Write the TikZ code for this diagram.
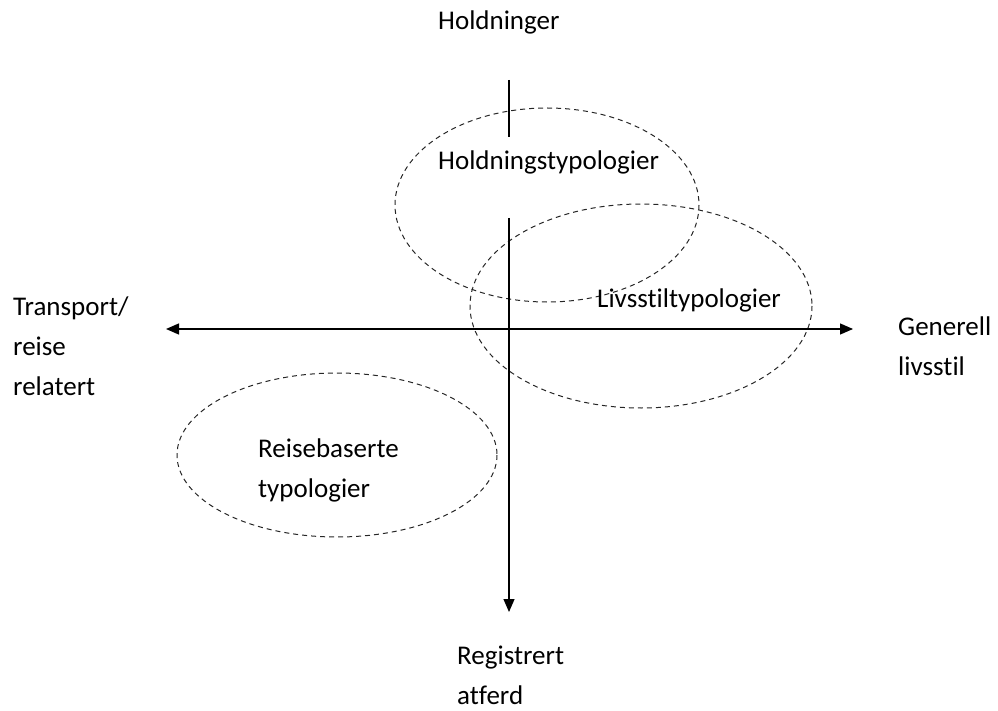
\documentclass[tikz,border=0pt]{standalone}
\usepackage{fontspec}
\setmainfont{Carlito}[Ligatures={NoCommon}]
\usetikzlibrary{arrows.meta}
\begin{document}
\begin{tikzpicture}[x=1pt,y=-1pt,
  axis/.style={line width=1.3pt,black},
  tip/.style={-{Triangle[length=13pt,width=11pt]}},
  group/.style={dashed,line width=1pt,dash pattern=on 5pt off 4pt,black!85},
  lbl/.style={inner sep=0pt,font=\fontsize{27}{40}\selectfont,align=left,anchor=base west}
]
\useasboundingbox (0,0) rectangle (998,711);

% groups of typologies
\draw[group] (547,205) ellipse [x radius=152, y radius=97];
\draw[group] (641,306) ellipse [x radius=171, y radius=102];
\draw[group] (337,455) ellipse [x radius=160, y radius=82];

% axis ends
\coordinate (vtop) at (509,80);
\coordinate (vgapA) at (509,137);
\coordinate (vgapB) at (509,218);
\coordinate (vbot) at (509,612);
\coordinate (hleft) at (166,329);
\coordinate (hright) at (853,329);

\draw[axis] (vtop) -- (vgapA);
\draw[axis,tip] (vgapB) -- (vbot);
\draw[axis,{Triangle[length=13pt,width=11pt]}-{Triangle[length=13pt,width=11pt]}] (hleft) -- (hright);

% axis labels (base anchor sits on the last line)
\node[lbl] (holdninger) at (438,30) {Holdninger};
\node[lbl] (transport) at (13,395) {Transport/\\reise\\relatert};
\node[lbl] (generell) at (898,375) {Generell\\livsstil};
\node[lbl] (registrert) at (457,704) {Registrert\\atferd};

% typology labels
\node[lbl] (holdtyp) at (438,170) {Holdningstypologier};
\node[lbl] (livtyp) at (597,307) {Livsstiltypologier};
\node[lbl] (reisetyp) at (258,497) {Reisebaserte\\typologier};
\end{tikzpicture}
\end{document}
